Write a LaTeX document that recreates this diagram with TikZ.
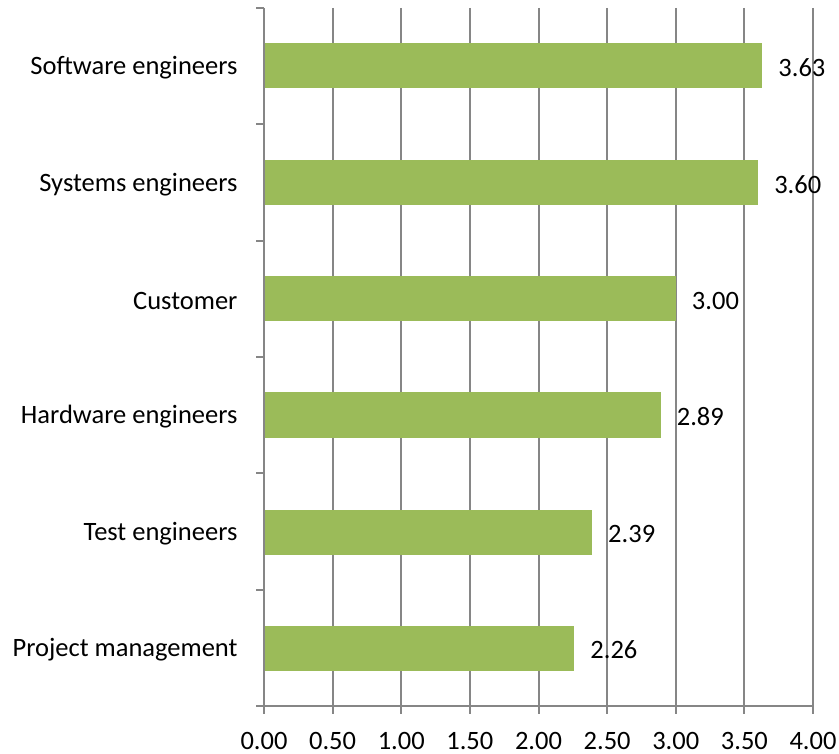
\documentclass[tikz,border=0pt]{standalone}
\usepackage{fontspec}
\setmainfont{Carlito}
\usepackage{tikz}
\usetikzlibrary{positioning}
\definecolor{barGreen}{RGB}{155,187,89}
\definecolor{axisGray}{RGB}{134,134,134}

\begin{document}
\begin{tikzpicture}[x=1pt, y=-1pt, font=\fontsize{26.5}{31}\selectfont]
        \useasboundingbox (0,0) rectangle (839,754);

            % gridlines and ticks on the value axis
            \foreach \i in {1,...,8}
                \draw[axisGray, line width=2] ({264+\i*68.625},8) -- ({264+\i*68.625},714);
            \foreach \lab [count=\i from 0] in {0.00,0.50,1.00,1.50,2.00,2.50,3.00,3.50,4.00}
                \node[anchor=base, inner sep=0pt] (tick\i) at ({264+\i*68.625},749) {\lab};

            % axes
            \draw[axisGray, line width=2] (264,8) -- (264,714);
            \draw[axisGray, line width=2] (256,706) -- (813,706);
            \foreach \k in {0,...,5}
                \draw[axisGray, line width=2] (256,{8+\k*116.33}) -- (264,{8+\k*116.33});

            % bars
            \foreach \v/\c/\name [count=\n] in {3.63/66/Software engineers, 3.60/183/Systems engineers,
                    3.00/299/Customer, 2.89/415/Hardware engineers,
                    2.39/532/Test engineers, 2.26/648/Project management} {
                \fill[barGreen] (265,\c-22.5) rectangle ({264+\v*137.25},\c+22.5);
                \node[anchor=east] (cat\n) at (241,\c+2) {\name};
                \node[anchor=west, inner sep=0pt] (val\n) at ({264+\v*137.25+16},\c+2) {\v};
            }
        \end{tikzpicture}
\end{document}
